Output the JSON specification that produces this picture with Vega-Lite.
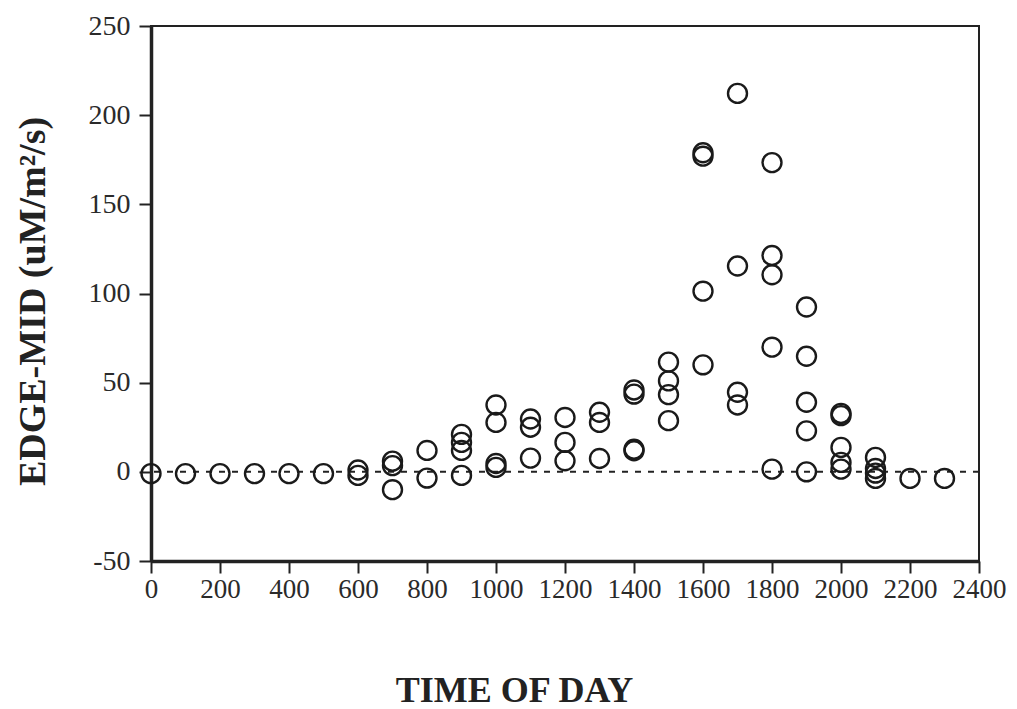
{
  "$schema": "https://vega.github.io/schema/vega-lite/v6.json",
  "autosize": "none",
  "width": 828,
  "height": 535,
  "padding": {"left": 151, "top": 26, "right": 38, "bottom": 148},
  "background": "white",
  "config": {
    "view": {"stroke": "#222", "strokeWidth": 2},
    "font": "Liberation Serif"
  },
  "layer": [
    {
      "data": {"values": [{"zero": 0}]},
      "mark": {"type": "rule", "stroke": "#222", "strokeWidth": 2, "strokeDash": [6, 7]},
      "encoding": {
        "y": {"field": "zero", "type": "quantitative", "scale": {"domain": [-50, 250]}}
      }
    },
    {
      "data": {
        "values": [
          {"time": 0, "flux": -1},
          {"time": 100, "flux": -1},
          {"time": 200, "flux": -1},
          {"time": 300, "flux": -1},
          {"time": 400, "flux": -1},
          {"time": 500, "flux": -1},
          {"time": 600, "flux": 1},
          {"time": 600, "flux": -2},
          {"time": 700, "flux": 6},
          {"time": 700, "flux": 3.5},
          {"time": 700, "flux": -10},
          {"time": 800, "flux": 12},
          {"time": 800, "flux": -3.5},
          {"time": 900, "flux": 21},
          {"time": 900, "flux": 16.5},
          {"time": 900, "flux": 12},
          {"time": 900, "flux": -2},
          {"time": 1000, "flux": 37.5},
          {"time": 1000, "flux": 27.7},
          {"time": 1000, "flux": 4.7},
          {"time": 1000, "flux": 2.5},
          {"time": 1100, "flux": 29.6},
          {"time": 1100, "flux": 25},
          {"time": 1100, "flux": 7.7},
          {"time": 1200, "flux": 30.5},
          {"time": 1200, "flux": 16.5},
          {"time": 1200, "flux": 6.2},
          {"time": 1300, "flux": 33.4},
          {"time": 1300, "flux": 27.7},
          {"time": 1300, "flux": 7.5},
          {"time": 1400, "flux": 45.9},
          {"time": 1400, "flux": 43.6},
          {"time": 1400, "flux": 12.7},
          {"time": 1400, "flux": 11.8},
          {"time": 1500, "flux": 61.5},
          {"time": 1500, "flux": 51},
          {"time": 1500, "flux": 43.3},
          {"time": 1500, "flux": 28.7},
          {"time": 1600, "flux": 178.9},
          {"time": 1600, "flux": 177},
          {"time": 1600, "flux": 101.3},
          {"time": 1600, "flux": 60},
          {"time": 1700, "flux": 212.2},
          {"time": 1700, "flux": 115.4},
          {"time": 1700, "flux": 44.6},
          {"time": 1700, "flux": 37.5},
          {"time": 1800, "flux": 173.4},
          {"time": 1800, "flux": 121.3},
          {"time": 1800, "flux": 110.5},
          {"time": 1800, "flux": 69.9},
          {"time": 1800, "flux": 1.5},
          {"time": 1900, "flux": 92.4},
          {"time": 1900, "flux": 64.8},
          {"time": 1900, "flux": 39},
          {"time": 1900, "flux": 23},
          {"time": 1900, "flux": 0},
          {"time": 2000, "flux": 32.8},
          {"time": 2000, "flux": 31.5},
          {"time": 2000, "flux": 13.7},
          {"time": 2000, "flux": 5.3},
          {"time": 2000, "flux": 1.5},
          {"time": 2100, "flux": 8.1},
          {"time": 2100, "flux": 1.9},
          {"time": 2100, "flux": -0.7},
          {"time": 2100, "flux": -3.7},
          {"time": 2200, "flux": -3.7},
          {"time": 2300, "flux": -3.7}
        ]
      },
      "mark": {"type": "point", "shape": "circle", "filled": false, "stroke": "#1a1a1a", "strokeWidth": 2.4, "size": 360, "opacity": 1},
      "encoding": {
        "x": {
          "field": "time",
          "type": "quantitative",
          "scale": {"domain": [0, 2400], "nice": false, "zero": false},
          "axis": {
            "title": "TIME OF DAY",
            "values": [0, 200, 400, 600, 800, 1000, 1200, 1400, 1600, 1800, 2000, 2200, 2400],
            "format": "d",
            "grid": false,
            "domainColor": "#222",
            "domainWidth": 3.5,
            "tickColor": "#222",
            "tickWidth": 2,
            "tickSize": 12,
            "labelPadding": 3,
            "labelFont": "Liberation Serif",
            "labelFontSize": 27,
            "labelColor": "#2a2a2a",
            "labelFlush": false,
            "labelOverlap": false,
            "titleFont": "Liberation Serif",
            "titleFontSize": 36,
            "titleFontWeight": "bold",
            "titleColor": "#222",
            "titleX": 363,
            "titleY": 129,
            "titleAlign": "center",
            "titleBaseline": "middle"
          }
        },
        "y": {
          "field": "flux",
          "type": "quantitative",
          "scale": {"domain": [-50, 250], "nice": false, "zero": false},
          "axis": {
            "title": "EDGE-MID (uM/m²/s)",
            "values": [-50, 0, 50, 100, 150, 200, 250],
            "labelExpr": "replace(datum.label, '−', '-')",
            "grid": false,
            "domainColor": "#222",
            "domainWidth": 3.5,
            "tickColor": "#222",
            "tickWidth": 2,
            "tickSize": 12,
            "labelPadding": 9,
            "labelFont": "Liberation Serif",
            "labelFontSize": 28,
            "labelColor": "#2a2a2a",
            "labelFlush": false,
            "labelOverlap": false,
            "titleFont": "Liberation Serif",
            "titleFontSize": 38,
            "titleFontWeight": "bold",
            "titleColor": "#222",
            "titleAngle": -90,
            "titleX": -118,
            "titleY": 275,
            "titleAlign": "center",
            "titleBaseline": "middle"
          }
        }
      }
    }
  ]
}
